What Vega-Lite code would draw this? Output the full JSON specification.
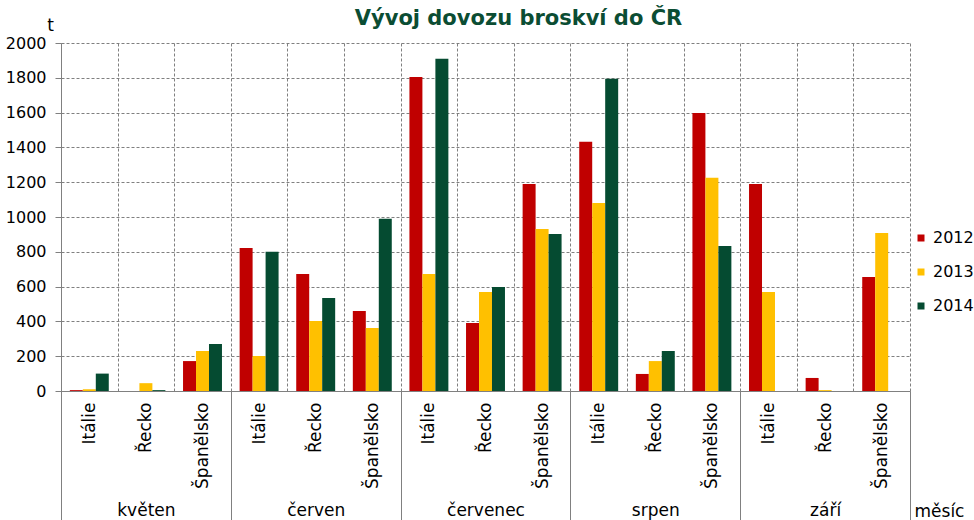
{
  "$schema": "https://vega.github.io/schema/vega-lite/v6.json",
  "autosize": {"type": "none"},
  "width": 849,
  "height": 348,
  "padding": {"left": 61, "top": 43, "right": 64, "bottom": 129},
  "background": "white",
  "config": {
    "font": "DejaVu Sans",
    "view": {"stroke": null}
  },
  "title": {
    "text": "Vývoj dovozu broskví do ČR",
    "font": "DejaVu Sans",
    "fontWeight": "bold",
    "fontSize": 21,
    "color": "#0B4D33",
    "anchor": "middle",
    "dx": 33,
    "dy": 30,
    "offset": 0,
    "baseline": "alphabetic"
  },
  "data": {
    "values": [
      {"mesic": "květen", "zeme": "Itálie", "skupina": "květen|Itálie", "rok": "2012", "dovoz": 5},
      {"mesic": "květen", "zeme": "Itálie", "skupina": "květen|Itálie", "rok": "2013", "dovoz": 10},
      {"mesic": "květen", "zeme": "Itálie", "skupina": "květen|Itálie", "rok": "2014", "dovoz": 100},
      {"mesic": "květen", "zeme": "Řecko", "skupina": "květen|Řecko", "rok": "2012", "dovoz": 0},
      {"mesic": "květen", "zeme": "Řecko", "skupina": "květen|Řecko", "rok": "2013", "dovoz": 45},
      {"mesic": "květen", "zeme": "Řecko", "skupina": "květen|Řecko", "rok": "2014", "dovoz": 5},
      {"mesic": "květen", "zeme": "Španělsko", "skupina": "květen|Španělsko", "rok": "2012", "dovoz": 172},
      {"mesic": "květen", "zeme": "Španělsko", "skupina": "květen|Španělsko", "rok": "2013", "dovoz": 230},
      {"mesic": "květen", "zeme": "Španělsko", "skupina": "květen|Španělsko", "rok": "2014", "dovoz": 270},
      {"mesic": "červen", "zeme": "Itálie", "skupina": "červen|Itálie", "rok": "2012", "dovoz": 822},
      {"mesic": "červen", "zeme": "Itálie", "skupina": "červen|Itálie", "rok": "2013", "dovoz": 201},
      {"mesic": "červen", "zeme": "Itálie", "skupina": "červen|Itálie", "rok": "2014", "dovoz": 800},
      {"mesic": "červen", "zeme": "Řecko", "skupina": "červen|Řecko", "rok": "2012", "dovoz": 673},
      {"mesic": "červen", "zeme": "Řecko", "skupina": "červen|Řecko", "rok": "2013", "dovoz": 402},
      {"mesic": "červen", "zeme": "Řecko", "skupina": "červen|Řecko", "rok": "2014", "dovoz": 535},
      {"mesic": "červen", "zeme": "Španělsko", "skupina": "červen|Španělsko", "rok": "2012", "dovoz": 460},
      {"mesic": "červen", "zeme": "Španělsko", "skupina": "červen|Španělsko", "rok": "2013", "dovoz": 362},
      {"mesic": "červen", "zeme": "Španělsko", "skupina": "červen|Španělsko", "rok": "2014", "dovoz": 990},
      {"mesic": "červenec", "zeme": "Itálie", "skupina": "červenec|Itálie", "rok": "2012", "dovoz": 1805},
      {"mesic": "červenec", "zeme": "Itálie", "skupina": "červenec|Itálie", "rok": "2013", "dovoz": 673},
      {"mesic": "červenec", "zeme": "Itálie", "skupina": "červenec|Itálie", "rok": "2014", "dovoz": 1909},
      {"mesic": "červenec", "zeme": "Řecko", "skupina": "červenec|Řecko", "rok": "2012", "dovoz": 391},
      {"mesic": "červenec", "zeme": "Řecko", "skupina": "červenec|Řecko", "rok": "2013", "dovoz": 569},
      {"mesic": "červenec", "zeme": "Řecko", "skupina": "červenec|Řecko", "rok": "2014", "dovoz": 598},
      {"mesic": "červenec", "zeme": "Španělsko", "skupina": "červenec|Španělsko", "rok": "2012", "dovoz": 1190},
      {"mesic": "červenec", "zeme": "Španělsko", "skupina": "červenec|Španělsko", "rok": "2013", "dovoz": 931},
      {"mesic": "červenec", "zeme": "Španělsko", "skupina": "červenec|Španělsko", "rok": "2014", "dovoz": 903},
      {"mesic": "srpen", "zeme": "Itálie", "skupina": "srpen|Itálie", "rok": "2012", "dovoz": 1432},
      {"mesic": "srpen", "zeme": "Itálie", "skupina": "srpen|Itálie", "rok": "2013", "dovoz": 1081},
      {"mesic": "srpen", "zeme": "Itálie", "skupina": "srpen|Itálie", "rok": "2014", "dovoz": 1794},
      {"mesic": "srpen", "zeme": "Řecko", "skupina": "srpen|Řecko", "rok": "2012", "dovoz": 98},
      {"mesic": "srpen", "zeme": "Řecko", "skupina": "srpen|Řecko", "rok": "2013", "dovoz": 172},
      {"mesic": "srpen", "zeme": "Řecko", "skupina": "srpen|Řecko", "rok": "2014", "dovoz": 230},
      {"mesic": "srpen", "zeme": "Španělsko", "skupina": "srpen|Španělsko", "rok": "2012", "dovoz": 1598},
      {"mesic": "srpen", "zeme": "Španělsko", "skupina": "srpen|Španělsko", "rok": "2013", "dovoz": 1225},
      {"mesic": "srpen", "zeme": "Španělsko", "skupina": "srpen|Španělsko", "rok": "2014", "dovoz": 834},
      {"mesic": "září", "zeme": "Itálie", "skupina": "září|Itálie", "rok": "2012", "dovoz": 1190},
      {"mesic": "září", "zeme": "Itálie", "skupina": "září|Itálie", "rok": "2013", "dovoz": 569},
      {"mesic": "září", "zeme": "Řecko", "skupina": "září|Řecko", "rok": "2012", "dovoz": 75},
      {"mesic": "září", "zeme": "Řecko", "skupina": "září|Řecko", "rok": "2013", "dovoz": 5},
      {"mesic": "září", "zeme": "Španělsko", "skupina": "září|Španělsko", "rok": "2012", "dovoz": 655},
      {"mesic": "září", "zeme": "Španělsko", "skupina": "září|Španělsko", "rok": "2013", "dovoz": 908}
    ]
  },
  "layer": [
    {
      "mark": {"type": "bar"},
      "encoding": {
        "x": {
          "field": "skupina",
          "type": "nominal",
          "sort": ["květen|Itálie", "květen|Řecko", "květen|Španělsko", "červen|Itálie", "červen|Řecko", "červen|Španělsko", "červenec|Itálie", "červenec|Řecko", "červenec|Španělsko", "srpen|Itálie", "srpen|Řecko", "srpen|Španělsko", "září|Itálie", "září|Řecko", "září|Španělsko"],
          "scale": {"paddingInner": 0, "paddingOuter": 0},
          "axis": {
            "orient": "bottom",
            "title": null,
            "ticks": false,
            "tickSize": 0,
            "tickBand": "extent",
            "grid": true,
            "gridColor": "#808080",
            "gridDash": [3, 2],
            "gridWidth": 1,
            "domainColor": "#808080",
            "labelAngle": -90,
            "labelPadding": 11,
            "labelFontSize": 17,
            "labelColor": "black",
            "labelExpr": "slice(datum.label, indexof(datum.label, '|') + 1)"
          }
        },
        "xOffset": {
          "field": "rok",
          "type": "nominal",
          "scale": {"domain": ["2012", "2013", "2014"], "paddingInner": 0, "paddingOuter": 0.68}
        },
        "y": {
          "field": "dovoz",
          "type": "quantitative",
          "scale": {"domain": [0, 2000], "nice": false},
          "axis": {
            "title": "t",
            "titleAngle": 0,
            "titleX": -11,
            "titleY": -13,
            "titleAlign": "center",
            "titleBaseline": "alphabetic",
            "titleFontWeight": "normal",
            "titleFontSize": 17,
            "titleColor": "black",
            "values": [0, 200, 400, 600, 800, 1000, 1200, 1400, 1600, 1800, 2000],
            "format": "d",
            "grid": true,
            "gridColor": "#808080",
            "gridDash": [3, 2],
            "domainColor": "#808080",
            "tickColor": "#808080",
            "tickSize": 6,
            "labelFontSize": 16,
            "labelPadding": 9,
            "labelColor": "black"
          }
        },
        "color": {
          "field": "rok",
          "type": "nominal",
          "scale": {"domain": ["2012", "2013", "2014"], "range": ["#C00000", "#FFC000", "#054B31"]},
          "legend": {
            "title": null,
            "orient": "none",
            "legendX": 852,
            "legendY": 187,
            "symbolType": "square",
            "symbolSize": 49,
            "symbolStrokeWidth": 0,
            "labelOffset": 4,
            "labelFontSize": 16,
            "labelColor": "black",
            "rowPadding": 18
          }
        }
      }
    },
    {
      "mark": {"type": "text", "opacity": 0},
      "encoding": {
        "x": {
          "field": "mesic",
          "type": "nominal",
          "sort": ["květen", "červen", "červenec", "srpen", "září"],
          "scale": {"paddingInner": 0, "paddingOuter": 0},
          "axis": {
            "orient": "bottom",
            "title": "měsíc",
            "titleX": 853,
            "titleY": 125,
            "titleAlign": "left",
            "titleBaseline": "alphabetic",
            "titleFontWeight": "normal",
            "titleFontSize": 17,
            "titleColor": "black",
            "tickBand": "extent",
            "tickSize": 129,
            "tickColor": "#808080",
            "domainColor": "#808080",
            "labelPadding": -18,
            "labelFontSize": 17,
            "labelAngle": 0,
            "labelColor": "black",
            "grid": false
          }
        },
        "text": {"value": ""}
      }
    }
  ],
  "resolve": {"scale": {"x": "independent"}, "axis": {"x": "independent"}}
}
